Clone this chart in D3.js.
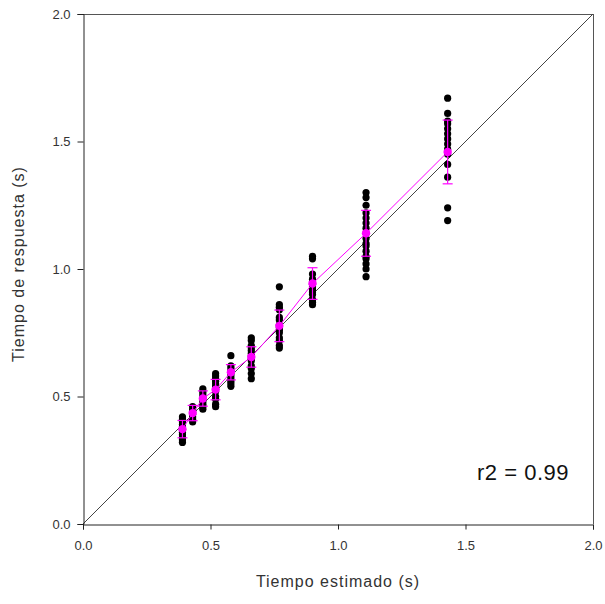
<!DOCTYPE html>
<html>
<head>
<meta charset="utf-8">
<script src="https://cdn.jsdelivr.net/npm/d3@7"></script>
<style>
  html, body { margin: 0; padding: 0; background: #fff; }
  svg { display: block; }
  text { font-family: "Liberation Sans", Arial, sans-serif; fill: #333; }
</style>
</head>
<body>
<svg id="chart" width="605" height="604"></svg>
<script>
// Estimated time for each condition (s)
const estimated = [0.39, 0.43, 0.47, 0.52, 0.58, 0.66, 0.77, 0.90, 1.11, 1.43];

// Individual response times per condition (s)
const responses = [
  [0.32, 0.33, 0.34, 0.35, 0.36, 0.37, 0.38, 0.39, 0.40, 0.41, 0.42],
  [0.40, 0.41, 0.42, 0.43, 0.44, 0.45, 0.46],
  [0.45, 0.46, 0.47, 0.48, 0.49, 0.50, 0.51, 0.52, 0.53],
  [0.46, 0.47, 0.49, 0.50, 0.52, 0.53, 0.54, 0.55, 0.56, 0.57, 0.58, 0.59],
  [0.54, 0.55, 0.56, 0.57, 0.58, 0.59, 0.60, 0.61, 0.62, 0.66],
  [0.57, 0.59, 0.61, 0.62, 0.64, 0.65, 0.66, 0.67, 0.68, 0.69, 0.70, 0.72, 0.73],
  [0.69, 0.70, 0.72, 0.73, 0.75, 0.76, 0.77, 0.78, 0.80, 0.81, 0.84, 0.85, 0.86, 0.93],
  [0.86, 0.87, 0.88, 0.90, 0.91, 0.92, 0.93, 0.94, 0.95, 0.96, 0.98, 1.04, 1.05],
  [0.97, 1.00, 1.02, 1.04, 1.05, 1.07, 1.09, 1.10, 1.12, 1.14, 1.16, 1.18, 1.20, 1.22, 1.25, 1.28, 1.30],
  [1.19, 1.24, 1.36, 1.41, 1.45, 1.47, 1.49, 1.51, 1.53, 1.55, 1.57, 1.58, 1.61, 1.67]
];

// Mean response time and its error per condition (s)
const meanResponse = [0.372, 0.435, 0.492, 0.527, 0.595, 0.655, 0.777, 0.943, 1.140, 1.459];
const errResponse  = [0.034, 0.030, 0.030, 0.040, 0.030, 0.040, 0.062, 0.062, 0.090, 0.125];

const tickValues = [0.0, 0.5, 1.0, 1.5, 2.0];
const fitLabel = "r2 = 0.99";
const xTitle = "Tiempo estimado (s)";
const yTitle = "Tiempo de respuesta (s)";

const svg = d3.select("#chart");
const plotL = 83, plotR = 593, plotT = 14, plotB = 524;

const x = d3.scaleLinear().domain([0, 2]).range([plotL, plotR]);
const y = d3.scaleLinear().domain([0, 2]).range([plotB, plotT]);

// Frame on top and right
svg.append("line").attr("x1", plotL).attr("x2", plotR).attr("y1", plotT + 0.5).attr("y2", plotT + 0.5)
  .attr("stroke", "#555").attr("stroke-width", 1);
svg.append("line").attr("x1", plotR + 0.5).attr("x2", plotR + 0.5).attr("y1", plotT).attr("y2", plotB)
  .attr("stroke", "#555").attr("stroke-width", 1);

// Identity line
svg.append("line")
  .attr("x1", x(0)).attr("y1", y(0)).attr("x2", x(2)).attr("y2", y(2))
  .attr("stroke", "#444").attr("stroke-width", 1);

// Axes
const fmt = d3.format(".1f");
const xAxis = svg.append("g").attr("transform", `translate(0,${plotB + 0.5})`)
  .call(d3.axisBottom(x).tickValues(tickValues).tickFormat(fmt).tickSize(5).tickPadding(11));
const yAxis = svg.append("g").attr("transform", `translate(${plotL + 0.5},0)`)
  .call(d3.axisLeft(y).tickValues(tickValues).tickFormat(fmt).tickSize(6).tickPadding(7));
[xAxis, yAxis].forEach(g => {
  g.select(".domain").attr("stroke", "#222");
  g.selectAll(".tick line").attr("stroke", "#222");
  g.selectAll("text").style("font-size", "13px").style("font-family", "Liberation Sans, Arial, sans-serif").attr("fill", "#333");
});
// The left axis runs a little below zero
svg.append("line").attr("x1", plotL + 0.5).attr("x2", plotL + 0.5).attr("y1", plotB).attr("y2", plotB + 5)
  .attr("stroke", "#222");

// Individual points
const pts = [];
estimated.forEach((e, i) => responses[i].forEach(r => pts.push({ e, r })));
svg.append("g").selectAll("circle").data(pts).join("circle")
  .attr("cx", d => x(d.e)).attr("cy", d => y(d.r)).attr("r", 3.6)
  .attr("fill", "#000");

// Line through the means
const meanData = estimated.map((e, i) => ({ e, m: meanResponse[i], s: errResponse[i] }));
svg.append("path").datum(meanData)
  .attr("d", d3.line().x(d => x(d.e)).y(d => y(d.m)))
  .attr("fill", "none").attr("stroke", "#ff00ff").attr("stroke-width", 1);

// Error bars
const eb = svg.append("g").attr("stroke", "#ff00ff").attr("stroke-width", 1.2);
meanData.forEach(d => {
  eb.append("line").attr("x1", x(d.e)).attr("x2", x(d.e)).attr("y1", y(d.m - d.s)).attr("y2", y(d.m + d.s));
  [d.m - d.s, d.m + d.s].forEach(v => {
    eb.append("line").attr("x1", x(d.e) - 5).attr("x2", x(d.e) + 5).attr("y1", y(v)).attr("y2", y(v));
  });
});

// Means
svg.append("g").selectAll("circle").data(meanData).join("circle")
  .attr("cx", d => x(d.e)).attr("cy", d => y(d.m)).attr("r", 4.2)
  .attr("fill", "#ff00ff");

// Fit label
svg.append("text").attr("x", 569).attr("y", 480).attr("text-anchor", "end")
  .style("font-size", "22px").style("letter-spacing", "0.5px").style("fill", "#111").text(fitLabel);

// Axis titles
svg.append("text").attr("x", 338).attr("y", 587).attr("text-anchor", "middle")
  .style("font-size", "16px").style("letter-spacing", "1px").text(xTitle);
svg.append("text").attr("transform", "translate(24,264) rotate(-90)").attr("text-anchor", "middle")
  .style("font-size", "16px").style("letter-spacing", "1px").text(yTitle);
</script>
</body>
</html>
